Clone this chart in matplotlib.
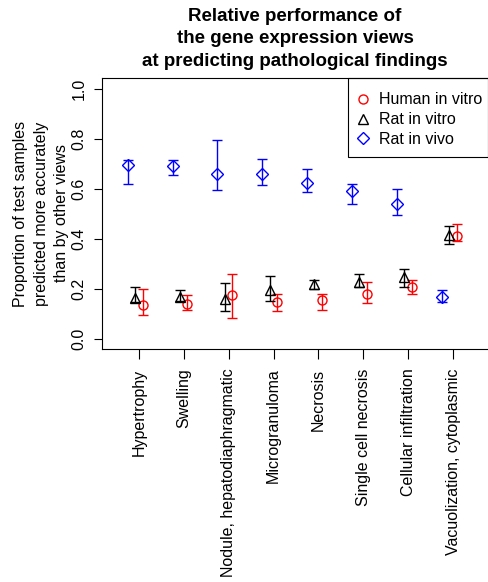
import numpy as np
import matplotlib.pyplot as plt
from matplotlib.patches import Rectangle

plt.rcParams['font.family'] = ['Liberation Sans', 'DejaVu Sans']

findings = ['Hypertrophy', 'Swelling', 'Nodule, hepatodiaphragmatic', 'Microgranuloma',
            'Necrosis', 'Single cell necrosis', 'Cellular infiltration',
            'Vacuolization, cytoplasmic']

# Human in vitro
human_mid = [0.137, 0.140, 0.175, 0.147, 0.157, 0.181, 0.208, 0.413]
human_lo = [0.097, 0.117, 0.084, 0.111, 0.115, 0.144, 0.181, 0.391]
human_hi = [0.201, 0.175, 0.259, 0.179, 0.180, 0.228, 0.235, 0.460]

# Rat in vitro
rvitro_mid = [0.166, 0.168, 0.161, 0.197, 0.220, 0.228, 0.248, 0.417]
rvitro_lo = [0.147, 0.151, 0.111, 0.151, 0.201, 0.207, 0.208, 0.381]
rvitro_hi = [0.209, 0.195, 0.223, 0.251, 0.237, 0.260, 0.281, 0.451]

# Rat in vivo
rvivo_mid = [0.695, 0.691, 0.661, 0.660, 0.624, 0.591, 0.541, 0.168]
rvivo_lo = [0.621, 0.657, 0.595, 0.615, 0.587, 0.541, 0.495, 0.148]
rvivo_hi = [0.715, 0.715, 0.797, 0.719, 0.680, 0.620, 0.600, 0.197]

fig = plt.figure(figsize=(4.88, 5.82), dpi=100)
ax = fig.add_axes([102/488, 1 - 349/582, 1 - 102/488, 271/582])

x = np.arange(1, len(findings) + 1)

def draw(xpos, mid, lo, hi, color, marker, ms, label):
    mid = np.array(mid)
    err = [mid - np.array(lo), np.array(hi) - mid]
    ax.errorbar(xpos, mid, yerr=err, fmt='none', ecolor=color, elinewidth=1.0,
                capsize=3.3, capthick=1.0)
    ax.plot(xpos, mid, linestyle='none', marker=marker, markersize=ms,
            markerfacecolor='none', markeredgecolor=color, markeredgewidth=1.0,
            label=label)

draw(x + 0.08, human_mid, human_lo, human_hi, 'red', 'o', 6.5, 'Human in vitro')
draw(x - 0.09, rvitro_mid, rvitro_lo, rvitro_hi, 'black', '^', 7.5, 'Rat in vitro')
draw(x - 0.25, rvivo_mid, rvivo_lo, rvivo_hi, 'blue', 'D', 6.5, 'Rat in vivo')

ax.set_xlim(0.176, 8.78)
ax.set_ylim(-0.04, 1.045)
ax.set_xticks(x)
ax.set_xticklabels(findings, rotation=90, fontsize=11.5)
ax.set_yticks([0.0, 0.2, 0.4, 0.6, 0.8, 1.0])
ax.set_yticklabels(['0.0', '0.2', '0.4', '0.6', '0.8', '1.0'], rotation=90,
                   va='center', fontsize=11.5)
ax.tick_params(axis='x', direction='out', length=7, width=0.8, pad=7)
ax.tick_params(axis='y', direction='out', length=6, width=0.8, pad=5)
ax.spines['right'].set_visible(False)
for s in ['left', 'bottom', 'top']:
    ax.spines[s].set_linewidth(0.8)

ax.set_ylabel('Proportion of test samples\npredicted more accurately\nthan by other views',
              fontsize=11.5, labelpad=2, linespacing=1.45)
ax.set_title('Relative performance of\nthe gene expression views\nat predicting pathological findings',
             fontsize=13.5, fontweight='bold', pad=9, linespacing=1.4)

# legend box drawn separately (R style: wide vertical padding, tight on the right)
fig.patches.append(Rectangle((348/488, 1 - 157/582), 140/488, 79/582,
                             transform=fig.transFigure, fill=False,
                             edgecolor='black', linewidth=0.8))
leg = ax.legend(loc='upper left', bbox_to_anchor=(353/488, 1 - 92.5/582),
                bbox_transform=fig.transFigure, fontsize=11.5, frameon=False,
                borderaxespad=0, borderpad=0, handletextpad=0.3,
                handlelength=1.3, labelspacing=0.3)

fig.savefig('out.png', dpi=100)
